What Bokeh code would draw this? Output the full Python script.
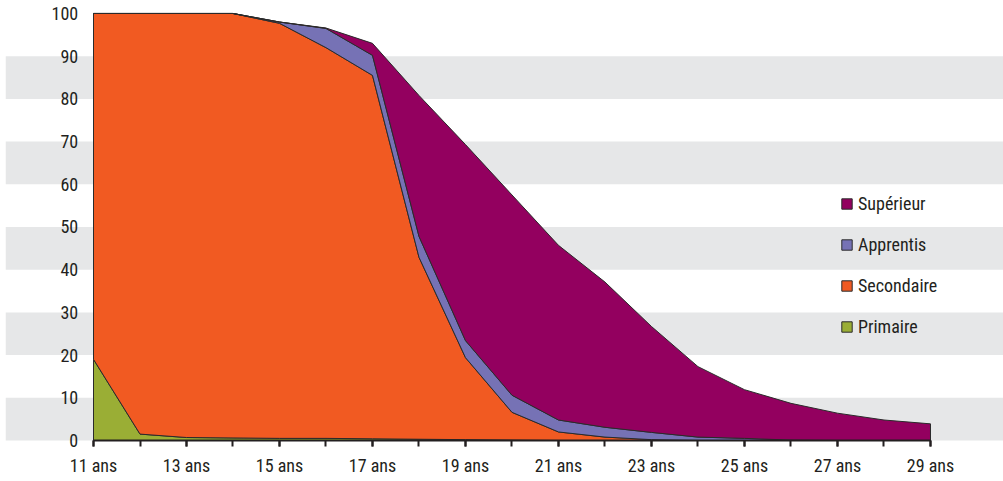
import numpy as np
from bokeh.plotting import figure
from bokeh.models import (Range1d, FixedTicker, BoxAnnotation, Legend, LegendItem,
                          LinearAxis)
from bokeh.embed import file_html
from bokeh.resources import INLINE

# ---- data (percent of each age group, stacked) ----
ages = list(range(11, 30))
primaire   = [19.0, 1.5, 0.7, 0.6, 0.5, 0.5, 0.4, 0.3, 0.2, 0.1, 0.0, 0.0, 0.0, 0.0, 0.0, 0.0, 0.0, 0.0, 0.0]
secondaire = [81.0, 98.5, 99.3, 99.4, 97.2, 91.5, 85.1, 42.6, 19.2, 6.5, 2.0, 0.8, 0.2, 0.0, 0.0, 0.0, 0.0, 0.0, 0.0]
apprentis  = [0.0, 0.0, 0.0, 0.0, 0.3, 4.5, 4.7, 4.9, 4.0, 4.0, 2.8, 2.3, 1.7, 0.8, 0.5, 0.1, 0.0, 0.0, 0.0]
superieur  = [0.0, 0.0, 0.0, 0.0, 0.0, 0.1, 2.8, 33.0, 45.9, 46.9, 40.9, 34.0, 24.8, 16.5, 11.4, 8.6, 6.4, 4.8, 3.9]

series_names  = ["Primaire", "Secondaire", "Apprentis", "Supérieur"]
series_values = [primaire, secondaire, apprentis, superieur]
colors = ["#9AAE35", "#F15A22", "#7672B5", "#93005F"]

y_ticks = list(range(0, 101, 10))
band_bottoms = [0, 20, 40, 60, 80]
x_tick_labels = {a: f"{a} ans" for a in range(11, 30, 2)}

FONT = "'Roboto Condensed', 'Liberation Sans Narrow', 'DejaVu Sans Condensed', sans-serif"
TXT = "#231F20"

p = figure(width=1003, height=481, output_backend="svg", toolbar_location=None,
           x_range=Range1d(9.1075, 30.570), y_range=Range1d(-9.6, 103.04),
           min_border_left=5, min_border_right=0, min_border_top=0, min_border_bottom=0,
           x_axis_location=None, y_axis_location=None)
p.outline_line_color = None
p.xgrid.visible = False
p.ygrid.visible = False
p.background_fill_color = "white"
p.border_fill_color = "white"

for b in band_bottoms:
    p.add_layout(BoxAnnotation(bottom=b, top=b + 10, fill_color="#E6E7E8", fill_alpha=1.0,
                               line_color=None, level="underlay"))

# stacked areas as outlined patches
x = np.array(ages, dtype=float)
lower = np.zeros(len(ages))
renderers = {}
for name, vals, col in zip(series_names, series_values, colors):
    upper = lower + np.array(vals)
    xs = np.concatenate([x, x[::-1]])
    ys = np.concatenate([upper, lower[::-1]])
    r = p.patch(xs, ys, fill_color=col, line_color="#2B2B2B", line_width=1)
    renderers[name] = r
    lower = upper

# x axis, pinned at y = 0
xa = LinearAxis(ticker=FixedTicker(ticks=list(range(11, 30, 2)), minor_ticks=list(range(11, 30))))
xa.fixed_location = 0
xa.bounds = (11, 29)
xa.major_label_overrides = x_tick_labels
xa.axis_line_color = TXT
xa.axis_line_width = 2
xa.major_tick_line_color = TXT
xa.major_tick_line_width = 2
xa.minor_tick_line_color = TXT
xa.minor_tick_line_width = 2
xa.major_tick_in = 0
xa.major_tick_out = 6
xa.minor_tick_in = 0
xa.minor_tick_out = 6
xa.major_label_standoff = 8
xa.major_label_text_font = FONT
xa.major_label_text_font_size = "18px"
xa.major_label_text_color = TXT
p.add_layout(xa, "below")

# y axis drawn inside the frame
ya = LinearAxis(ticker=FixedTicker(ticks=y_ticks))
ya.fixed_location = 10.8
ya.axis_line_color = None
ya.major_tick_line_color = None
ya.minor_tick_line_color = None
ya.major_tick_out = 0
ya.major_tick_in = 0
ya.major_label_standoff = 6
ya.major_label_text_font = FONT
ya.major_label_text_font_size = "18px"
ya.major_label_text_color = TXT
p.add_layout(ya, "left")

legend = Legend(items=[LegendItem(label=n, renderers=[renderers[n]]) for n in
                       ["Supérieur", "Apprentis", "Secondaire", "Primaire"]],
                location=(835, 144), orientation="vertical")
legend.background_fill_alpha = 0
legend.border_line_color = None
legend.padding = 0
legend.margin = 0
legend.glyph_width = 13
legend.glyph_height = 13
legend.label_height = 20
legend.spacing = 20
legend.label_standoff = 5
legend.label_text_font = FONT
legend.label_text_font_size = "18px"
legend.label_text_color = TXT
legend.label_text_baseline = "middle"
p.add_layout(legend, "center")

open("out.html", "w").write(file_html(p, INLINE))
